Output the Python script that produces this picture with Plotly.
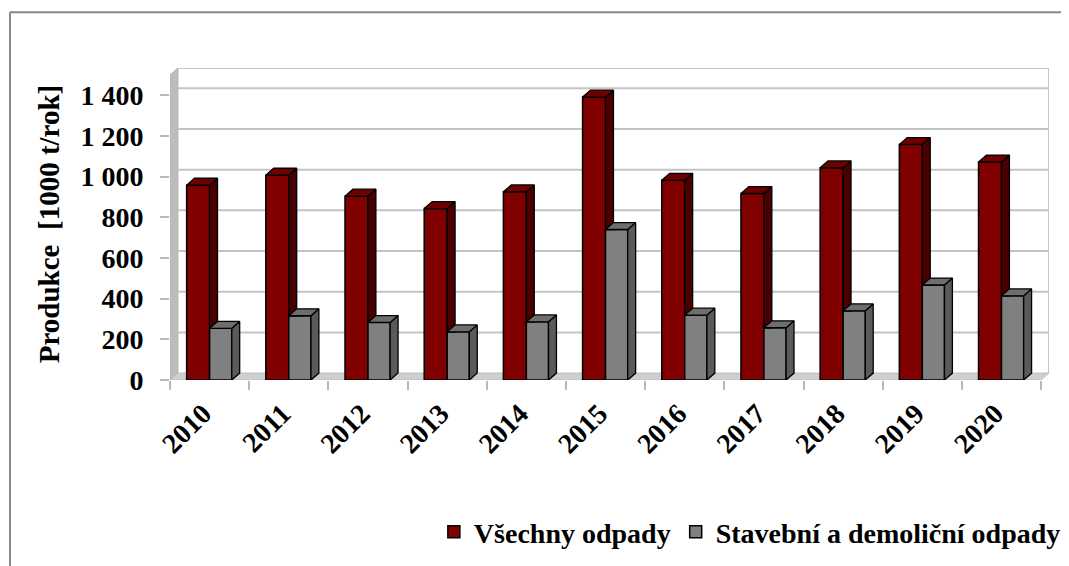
import plotly.graph_objects as go

# ---- data ----
years = ["2010", "2011", "2012", "2013", "2014", "2015", "2016", "2017", "2018", "2019", "2020"]
all_waste = [958, 1007, 904, 843, 925, 1391, 982, 917, 1043, 1158, 1072]
cd_waste = [254, 316, 283, 237, 286, 740, 319, 257, 340, 467, 414]
y_ticks = [0, 200, 400, 600, 800, 1000, 1200, 1400]
y_ticktext = ["0", "200", "400", "600", "800", "1 000", "1 200", "1 400"]
series_names = ["Všechny odpady", "Stavební a demoliční odpady"]

# ---- styling / geometry constants ----
FONT = "Liberation Serif"
RED, RED_SIDE, RED_TOP = "#800000", "#4a0000", "#6e0000"
GRAY, GRAY_SIDE, GRAY_TOP = "#808080", "#5a5a5a", "#6e6e6e"
W_RED, W_GRAY = 0.29, 0.28
DX, DY = 0.1, 34          # depth offset (x in category units, y in value units)
X0, X1 = -0.5, len(years) - 0.5
YMAX = 1500
LABEL_SHIFT = 0.08

idx = list(range(len(years)))

fig = go.Figure()

# front faces
fig.add_trace(go.Bar(x=idx, y=all_waste, offset=-W_RED, width=W_RED, name=series_names[0],
                     marker=dict(color=RED, line=dict(color="black", width=1.5)), hoverinfo="y"))
fig.add_trace(go.Bar(x=idx, y=cd_waste, offset=0, width=W_GRAY, name=series_names[1],
                     marker=dict(color=GRAY, line=dict(color="black", width=1.5)), hoverinfo="y"))

# 3D side / top faces built from the data
def poly_trace(xs, ys, fill):
    return go.Scatter(x=xs, y=ys, mode="lines", fill="toself", fillcolor=fill,
                      line=dict(color="black", width=1.3), showlegend=False, hoverinfo="skip")

rs_x, rs_y, rt_x, rt_y = [], [], [], []
gs_x, gs_y, gt_x, gt_y = [], [], [], []
for i, (r, g) in zip(idx, zip(all_waste, cd_waste)):
    rs_x += [i, i, i + DX, i + DX, i, None]
    rs_y += [g, r, r + DY, g, g, None]
    l = i - W_RED
    rt_x += [l, l + DX, i + DX, i, l, None]
    rt_y += [r, r + DY, r + DY, r, r, None]
    rr = i + W_GRAY
    gs_x += [rr, rr + DX, rr + DX, rr, rr, None]
    gs_y += [0, DY, g + DY, g, 0, None]
    gt_x += [i, i + DX, rr + DX, rr, i, None]
    gt_y += [g, g + DY, g + DY, g, g, None]

fig.add_trace(poly_trace(rs_x, rs_y, RED_SIDE))
fig.add_trace(poly_trace(rt_x, rt_y, RED_TOP))
fig.add_trace(poly_trace(gs_x, gs_y, GRAY_SIDE))
fig.add_trace(poly_trace(gt_x, gt_y, GRAY_TOP))

# walls, floor and back-wall gridlines
shapes = []
shapes.append(dict(type="path", xref="x", yref="y", layer="below",
                   path=f"M {X0},0 L {X0+DX},{DY} L {X0+DX},{YMAX+DY} L {X0},{YMAX} Z",
                   fillcolor="#bdbdbd", line=dict(color="#b0b0b0", width=1)))
shapes.append(dict(type="path", xref="x", yref="y", layer="below",
                   path=f"M {X0},0 L {X1},0 L {X1+DX},{DY} L {X0+DX},{DY} Z",
                   fillcolor="#cfcfcf", line=dict(color="#bdbdbd", width=1)))
for v in y_ticks[1:] + [YMAX]:
    shapes.append(dict(type="line", xref="x", yref="y", layer="below",
                       x0=X0 + DX, x1=X1 + DX, y0=v + DY, y1=v + DY,
                       line=dict(color="#c4c4c4", width=2)))
shapes.append(dict(type="line", xref="x", yref="y", layer="below",
                   x0=X1 + DX, x1=X1 + DX, y0=DY, y1=YMAX + DY,
                   line=dict(color="#c4c4c4", width=2)))
# outer chart border (top + left)
shapes.append(dict(type="line", xref="paper", yref="paper", x0=-0.182, x1=1.05, y0=1.179, y1=1.179,
                   line=dict(color="#888888", width=2)))
shapes.append(dict(type="line", xref="paper", yref="paper", x0=-0.182, x1=-0.182, y0=1.179, y1=-0.7,
                   line=dict(color="#888888", width=2)))

fig.update_layout(
    width=1069, height=566,
    margin=dict(l=162, r=27, t=60, b=194),
    paper_bgcolor="white", plot_bgcolor="white",
    barmode="overlay",
    shapes=shapes,
    font=dict(family=FONT, color="black"),
    legend=dict(orientation="h", x=1.018, xanchor="right", y=-0.487, yanchor="middle",
                font=dict(family=FONT, size=28, weight="bold"), traceorder="normal"),
    xaxis=dict(range=[X0, X1 + DX], tickmode="array", tickvals=[i - LABEL_SHIFT for i in idx],
               ticktext=years, tickangle=-45, ticks="outside", ticklen=0, showgrid=False,
               zeroline=False, showline=False, ticklabelstandoff=5,
               tickfont=dict(family=FONT, size=28, weight="bold"),
               minor=dict(tickmode="array", tickvals=[i - 0.5 for i in range(len(years) + 1)],
                          ticks="outside", ticklen=9, tickwidth=2, tickcolor="#b8b8b8", showgrid=False)),
    yaxis=dict(range=[0, YMAX + DY], tickmode="array", tickvals=y_ticks, ticktext=y_ticktext,
               ticks="outside", ticklen=9, tickwidth=2, tickcolor="#b8b8b8",
               showgrid=False, zeroline=False, showline=False, ticklabelstandoff=11,
               tickfont=dict(family=FONT, size=28, weight="bold"),
               title=dict(text="Produkce\u00a0\u00a0[1000 t/rok]", standoff=12,
                          font=dict(family=FONT, size=29, weight="bold"))),
)

fig.write_html("out.html")
